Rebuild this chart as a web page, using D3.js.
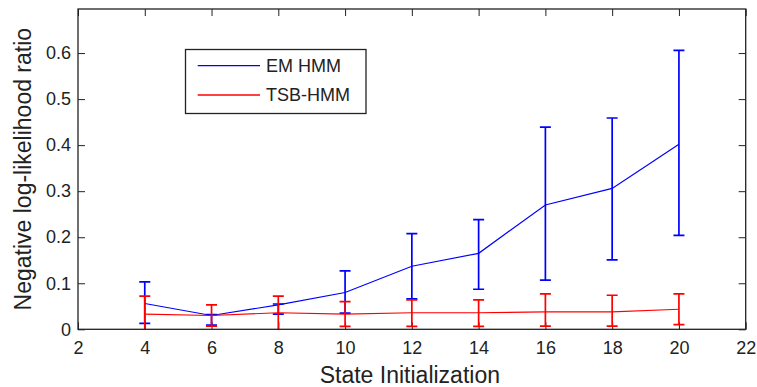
<!DOCTYPE html>
<html><head><meta charset="utf-8">
<script src="https://cdn.jsdelivr.net/npm/d3@7"></script>
<style>body{margin:0;background:#fff;} svg{display:block;}</style>
</head><body><div id="chart"></div>
<script>
const states = [4, 6, 8, 10, 12, 14, 16, 18, 20];
const emMean  = [0.056, 0.030, 0.053, 0.080, 0.137, 0.165, 0.270, 0.306, 0.402];
const emUpper = [0.103, 0.032, 0.055, 0.127, 0.208, 0.238, 0.439, 0.459, 0.606];
const emLower = [0.013, 0.009, 0.033, 0.035, 0.066, 0.087, 0.107, 0.151, 0.204];
const tsbMean  = [0.033, 0.030, 0.036, 0.033, 0.036, 0.036, 0.038, 0.038, 0.0435];
const tsbUpper = [0.072, 0.053, 0.072, 0.060, 0.064, 0.064, 0.077, 0.074, 0.077];
const tsbLower = [-0.005, 0.007, -0.003, 0.0065, 0.0065, 0.0065, 0.007, 0.007, 0.010];
const xTicks = [2, 4, 6, 8, 10, 12, 14, 16, 18, 20, 22];
const yTicks = [0, 0.1, 0.2, 0.3, 0.4, 0.5, 0.6];
const seriesNames = ["EM HMM", "TSB-HMM"];
const seriesColors = ["#0000ff", "#ff0000"];

const W = 757, H = 387;
const L = 78, R = 745.7, T = 9, B = 329.3;
const svg = d3.select("#chart").append("svg").attr("width", W).attr("height", H)
  .style("font-family", "Arial, 'Liberation Sans', sans-serif");

const x = d3.scaleLinear().domain([2, 22]).range([L, R]);
const y = d3.scaleLinear().domain([0, 0.6957]).range([B, T]);

const clipId = "plotclip";
svg.append("clipPath").attr("id", clipId).append("rect")
  .attr("x", L).attr("y", T).attr("width", R - L).attr("height", B - T);

// axes
const tickLen = 7;
const axB = svg.append("g").attr("transform", `translate(0,${B})`)
  .call(d3.axisBottom(x).tickValues(xTicks).tickSize(-tickLen).tickPadding(12).tickFormat(d3.format("d")));
const axT = svg.append("g").attr("transform", `translate(0,${T})`)
  .call(d3.axisTop(x).tickValues(xTicks).tickSize(-tickLen).tickFormat(""));
const axL = svg.append("g").attr("transform", `translate(${L},0)`)
  .call(d3.axisLeft(y).tickValues(yTicks).tickSize(-tickLen).tickPadding(7).tickFormat(d => d === 0 ? "0" : d3.format(".1f")(d)));
const axR = svg.append("g").attr("transform", `translate(${R},0)`)
  .call(d3.axisRight(y).tickValues(yTicks).tickSize(-tickLen).tickFormat(""));
[axB, axT, axL, axR].forEach(g => {
  g.select(".domain").remove();
  g.selectAll("line").attr("stroke", "#222").attr("stroke-width", 1);
  g.selectAll("text").attr("fill", "#222").style("font-size", "18px");
});
axB.selectAll("text").attr("dy", "0.71em");

// data series
const series = [
  {mean: emMean, up: emUpper, lo: emLower, color: seriesColors[0]},
  {mean: tsbMean, up: tsbUpper, lo: tsbLower, color: seriesColors[1]}
];
const plot = svg.append("g").attr("clip-path", `url(#${clipId})`);
const line = d3.line().x((d, i) => x(states[i])).y(d => y(d));
const capW = 5.5;
series.forEach(s => {
  plot.append("path").datum(s.mean).attr("d", line)
    .attr("fill", "none").attr("stroke", s.color).attr("stroke-width", 1.2);
  const g = plot.append("g").attr("stroke", s.color).attr("stroke-width", 1.7);
  states.forEach((st, i) => {
    const cx = x(st);
    g.append("line").attr("x1", cx).attr("x2", cx).attr("y1", y(s.lo[i])).attr("y2", y(s.up[i]));
    g.append("line").attr("x1", cx - capW).attr("x2", cx + capW).attr("y1", y(s.up[i])).attr("y2", y(s.up[i]));
    g.append("line").attr("x1", cx - capW).attr("x2", cx + capW).attr("y1", y(s.lo[i])).attr("y2", y(s.lo[i]));
  });
});

// frame
svg.append("rect").attr("x", L).attr("y", T).attr("width", R - L).attr("height", B - T)
  .attr("fill", "none").attr("stroke", "#222").attr("stroke-width", 1.3);

// legend
const lg = svg.append("g");
lg.append("rect").attr("x", 185.5).attr("y", 49.5).attr("width", 180.5).attr("height", 64)
  .attr("fill", "#fff").attr("stroke", "#222").attr("stroke-width", 1.3);
seriesNames.forEach((n, i) => {
  const yy = 65.7 + i * 29.3;
  lg.append("line").attr("x1", 197.7).attr("x2", 260).attr("y1", yy).attr("y2", yy)
    .attr("stroke", seriesColors[i]).attr("stroke-width", 1.3);
  lg.append("text").attr("x", 266).attr("y", yy).attr("dy", "0.36em")
    .style("font-size", "18px").attr("fill", "#222").text(n);
});

// axis labels
svg.append("text").attr("x", (L + R) / 2 - 2).attr("y", 383).attr("text-anchor", "middle")
  .style("font-size", "23px").attr("fill", "#222").text("State Initialization");
svg.append("text").attr("transform", `translate(31,${(T + B) / 2}) rotate(-90)`)
  .attr("text-anchor", "middle").style("font-size", "23px").attr("fill", "#222")
  .text("Negative log-likelihood ratio");
</script></body></html>
